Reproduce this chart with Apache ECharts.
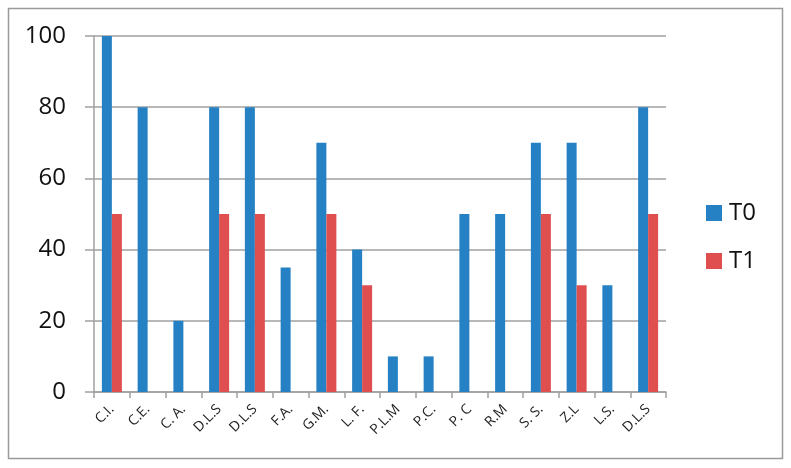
<!DOCTYPE html>
<html>
<head>
<meta charset="utf-8">
<script src="https://cdn.jsdelivr.net/npm/echarts@6/dist/echarts.min.js"></script>
<style>
  html, body { margin: 0; padding: 0; background: #fff; }
  #chart { width: 791px; height: 468px; }
</style>
</head>
<body>
<div id="chart"></div>
<script>
// categories and values
const categories = ["C.I.", "C.E.", "C. A.", "D.L.S", "D.L.S", "F.A.", "G.M.", "L. F.", "P.L.M", "P.C.", "P. C", "R.M", "S. S.", "Z.L", "L.S.", "D.L.S"];
const t0 = [100, 80, 20, 80, 80, 35, 70, 40, 10, 10, 50, 50, 70, 70, 30, 80];
const t1 = [50, 0, 0, 50, 50, 0, 50, 30, 0, 0, 0, 0, 50, 30, 0, 50];
const yTicks = [0, 20, 40, 60, 80, 100];

const gridColor = "#a0a0a0";

const chart = echarts.init(document.getElementById("chart"));
chart.setOption({
  animation: false,
  textStyle: { fontFamily: "Open Sans, Liberation Sans, sans-serif" },
  graphic: [
    {
      type: "rect",
      shape: { x: 8.5, y: 8.5, width: 774, height: 450 },
      style: { fill: "none", stroke: "#9a9a9a", lineWidth: 1.5 }
    }
  ],
  legend: {
    orient: "vertical",
    left: 701,
    top: 196,
    itemWidth: 16,
    itemHeight: 16,
    itemGap: 24,
    icon: "rect",
    textStyle: { fontSize: 24, color: "#111", padding: [0, 0, 0, 2] },
    data: ["T0", "T1"]
  },
  grid: { left: 94, right: 125, top: 36, bottom: 76, containLabel: false },
  xAxis: {
    type: "category",
    data: categories,
    axisLine: { lineStyle: { color: gridColor, width: 1.5 } },
    axisTick: { show: true, length: 6, interval: 0, lineStyle: { color: gridColor, width: 1.5 } },
    axisLabel: { interval: 0, rotate: 45, fontSize: 14, color: "#222", margin: 15 }
  },
  yAxis: {
    type: "value",
    min: yTicks[0],
    max: yTicks[yTicks.length - 1],
    interval: 20,
    axisLine: { show: true, lineStyle: { color: gridColor, width: 1.5 } },
    axisTick: { show: true, inside: false, length: 9, lineStyle: { color: gridColor, width: 1.5 } },
    axisLabel: { fontSize: 24, color: "#111", margin: 28 },
    splitLine: { lineStyle: { color: gridColor, width: 1.5 } }
  },
  series: [
    {
      name: "T0",
      type: "bar",
      data: t0,
      barWidth: 10,
      barGap: "0%",
      itemStyle: { color: "#2581c4" }
    },
    {
      name: "T1",
      type: "bar",
      data: t1,
      barWidth: 10,
      barGap: "0%",
      itemStyle: { color: "#df4f4f" }
    }
  ]
});
</script>
</body>
</html>
